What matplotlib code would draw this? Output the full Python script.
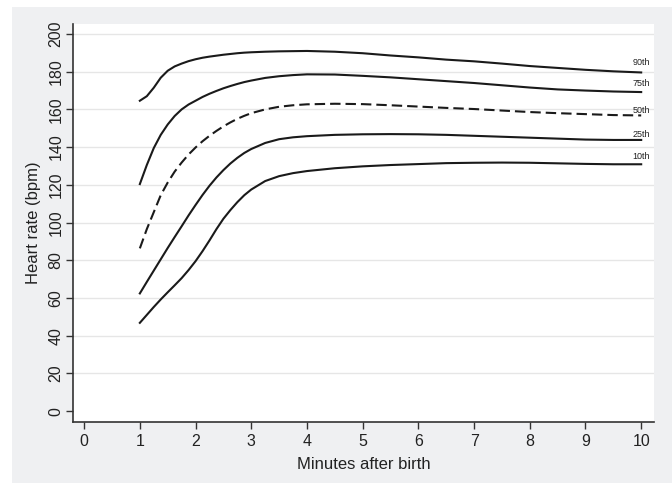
import matplotlib
matplotlib.use("Agg")
import matplotlib.pyplot as plt
from matplotlib.patches import Rectangle

plt.rcParams["font.family"] = ["Liberation Sans", "DejaVu Sans"]

minutes = [1, 1.125, 1.25, 1.375, 1.5, 1.625, 1.75, 1.875, 2, 2.125, 2.25,
           2.375, 2.5, 2.625, 2.75, 2.875, 3, 3.25, 3.5, 3.75, 4, 4.5, 5,
           5.5, 6, 6.5, 7, 7.5, 8, 8.5, 9, 9.5, 10]

p90 = [164.6, 167.0, 171.5, 176.8, 180.5, 182.8, 184.3, 185.6, 186.6, 187.4,
       188.0, 188.5, 189.0, 189.4, 189.8, 190.1, 190.3, 190.6, 190.8, 190.9,
       191.0, 190.6, 189.8, 188.6, 187.6, 186.4, 185.5, 184.3, 183.0, 182.0,
       181.0, 180.2, 179.6]
p75 = [120.4, 130.5, 139.5, 146.5, 152.0, 156.5, 160.0, 162.6, 164.6, 166.6,
       168.3, 169.8, 171.2, 172.4, 173.5, 174.5, 175.3, 176.7, 177.6, 178.2,
       178.6, 178.5, 177.8, 177.0, 176.0, 175.0, 174.0, 172.8, 171.6, 170.6,
       170.0, 169.5, 169.2]
p50 = [86.3, 96.5, 105.5, 114.5, 121.2, 127.0, 131.8, 136.1, 139.8, 143.1,
       146.0, 148.6, 151.0, 153.1, 155.0, 156.6, 158.0, 160.0, 161.4, 162.2,
       162.7, 163.0, 162.8, 162.2, 161.5, 160.8, 160.2, 159.4, 158.6, 158.0,
       157.5, 157.0, 156.8]
p25 = [62.4, 68.5, 74.5, 80.5, 86.5, 92.3, 98.0, 103.8, 109.3, 114.6,
       119.5, 123.9, 127.8, 131.3, 134.3, 136.9, 139.0, 142.2, 144.2, 145.2,
       145.8, 146.5, 146.8, 146.9, 146.8, 146.5, 146.0, 145.5, 145.0, 144.5,
       144.0, 143.8, 143.8]
p10 = [46.8, 51.0, 55.2, 59.2, 63.0, 66.7, 70.5, 74.8, 79.5, 84.8,
       90.5, 96.5, 102.0, 106.6, 110.8, 114.5, 117.5, 122.0, 124.6, 126.2,
       127.3, 128.8, 129.8, 130.5, 131.0, 131.5, 131.7, 131.8, 131.7, 131.4,
       131.1, 130.9, 130.9]

series = [("90th", p90, "-", 5.2), ("75th", p75, "-", 4.6),
          ("50th", p50, "--", 2.6), ("25th", p25, "-", 3.0),
          ("10th", p10, "-", 4.0)]

xticks = list(range(0, 11))
yticks = list(range(0, 201, 20))

GREY = "#eff0f2"
fig = plt.figure(figsize=(6.72, 4.83), dpi=100)
fig.patch.set_facecolor(GREY)
# thin white strips on the left and top edges (graph region is offset)
fig.add_artist(Rectangle((0, 0), 12 / 672, 1, transform=fig.transFigure,
                         facecolor="white", edgecolor="none", zorder=-10))
fig.add_artist(Rectangle((0, 1 - 7 / 483), 1, 7 / 483, transform=fig.transFigure,
                         facecolor="white", edgecolor="none", zorder=-10))

ax = fig.add_axes([73 / 672, 1 - 422 / 483, (654 - 73) / 672, (422 - 24) / 483])
ax.set_facecolor("white")

for yv in yticks[1:]:
    ax.axhline(yv, color="#e6e6e6", lw=1.0, zorder=0)

for name, vals, ls, off in series:
    if ls == "--":
        ax.plot(minutes, vals, color="#1a1a1a", lw=1.5, ls=(0, (5, 2.4)))
    else:
        ax.plot(minutes, vals, color="#1a1a1a", lw=1.5, ls=ls)
    ax.text(minutes[-1], vals[-1] + off, name, fontsize=6.5, ha="center",
            va="center", color="#222222")

ax.set_xlim(-0.2, 10.23)
ax.set_ylim(-5.8, 205.3)
ax.set_xticks(xticks)
ax.set_yticks(yticks)
ax.tick_params(axis="both", direction="out", length=5, width=1, color="#333333",
               labelsize=11.5, labelcolor="#222222")
ax.tick_params(axis="y", pad=2)
for lab in ax.get_yticklabels():
    lab.set_rotation(90)
    lab.set_va("center")

for s in ["top", "right"]:
    ax.spines[s].set_visible(False)
for s in ["left", "bottom"]:
    ax.spines[s].set_color("#333333")
    ax.spines[s].set_linewidth(1.2)

ax.set_xlabel("Minutes after birth", fontsize=12, color="#222222", labelpad=6)
ax.set_ylabel("Heart rate (bpm)", fontsize=12, color="#222222", labelpad=5)

fig.savefig("out.png", dpi=100, facecolor=GREY)
